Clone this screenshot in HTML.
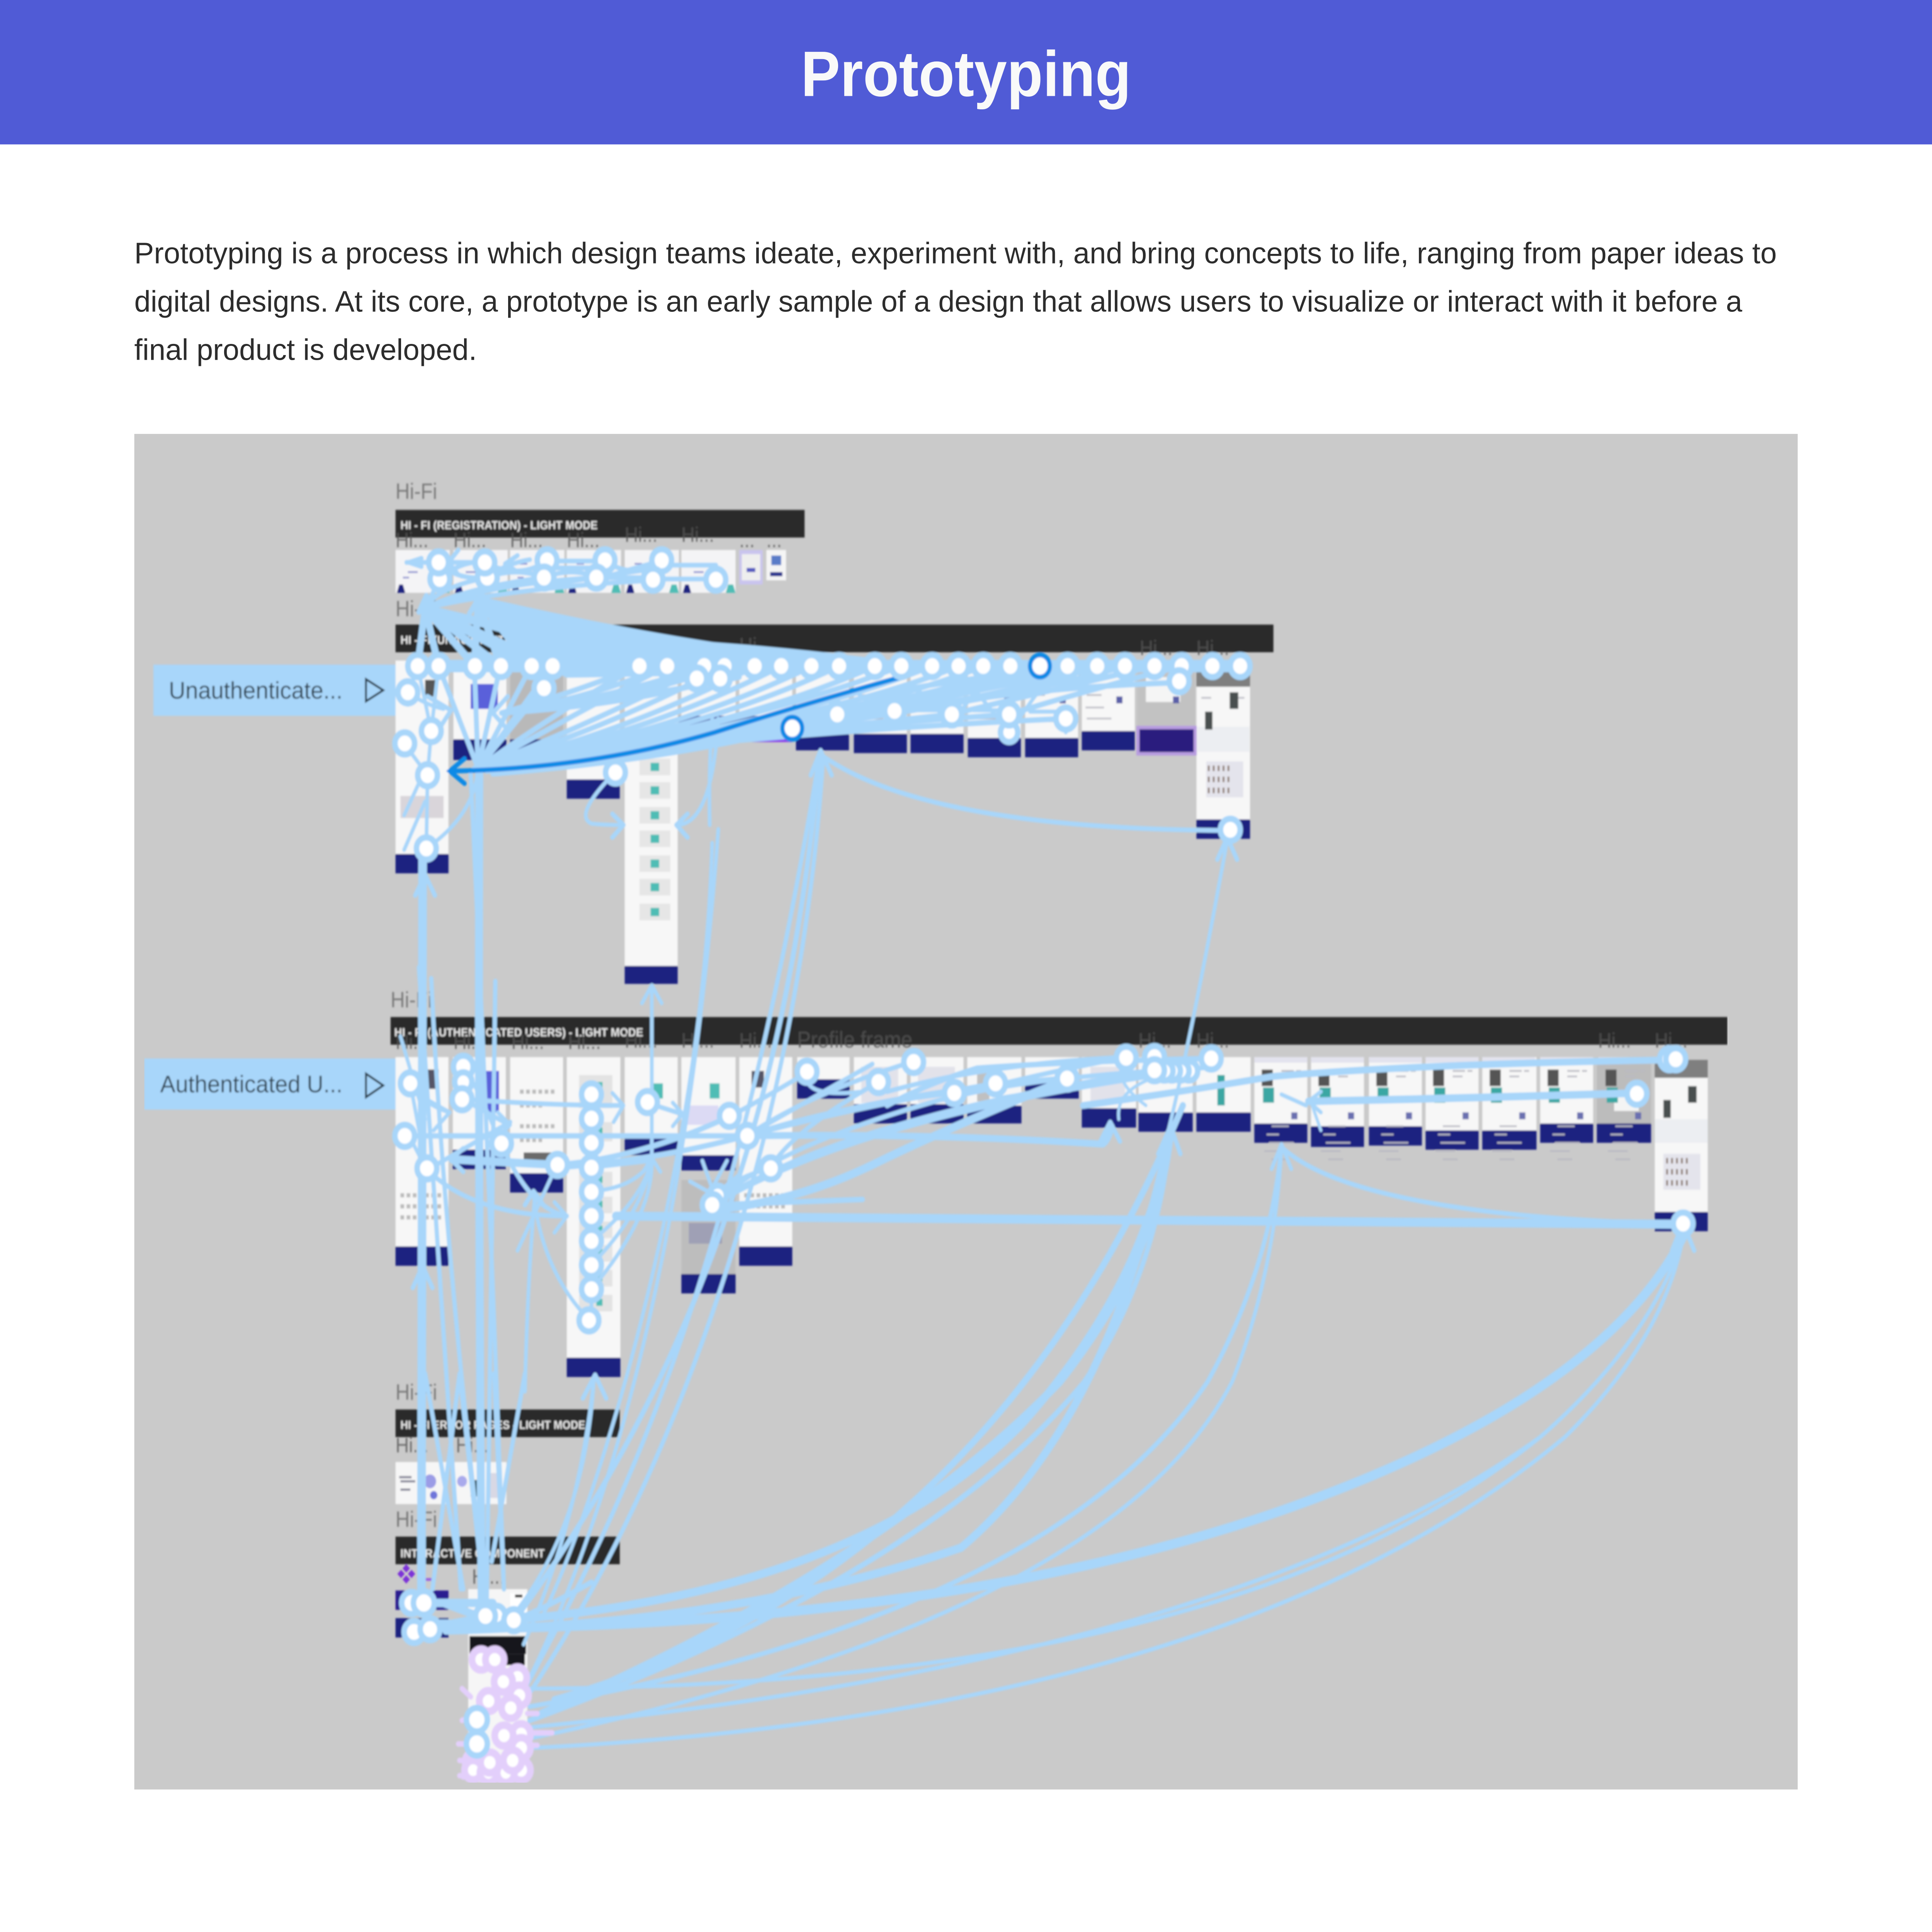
<!DOCTYPE html>
<html lang="en"><head><meta charset="utf-8"><title>Prototyping</title>
<style>html,body{margin:0;padding:0;background:#fff;width:100%;height:100%;overflow:hidden}svg{display:block;width:100vw;height:100vh}text{font-family:"Liberation Sans",sans-serif}</style></head>
<body>
<svg xmlns="http://www.w3.org/2000/svg" viewBox="0 0 1568 1398.13" preserveAspectRatio="none">
<defs>
<filter id="b" x="0" y="0" width="100%" height="100%" filterUnits="objectBoundingBox"><feGaussianBlur stdDeviation="0.7"/></filter>
<g id="d">
<rect x="0" y="0" width="43" height="4" fill="#e3e3ee"/>
<rect x="6" y="9" width="9" height="12" fill="#555"/><rect x="7" y="22" width="9" height="11" fill="#3aa7a3"/>
<rect x="30" y="40" width="5" height="5" fill="#6a6fb0"/>
<path d="M22 10h10M34 10h4M22 14h8M14 50h14M10 56h10M12 62h20M8 68h16M14 74h12" stroke="#b9b9c2" stroke-width="1.2" fill="none"/>
</g>
<g id="r">
<rect width="44" height="31" fill="#f4f4f6"/>
<path d="M1 31l2-6 3 0 2 6z" fill="#1c2180"/><path d="M36 31l2-6 4 0 2 6z" fill="#4fbdb5"/>
<path d="M8 10h6M10 16h8M6 20h5" stroke="#8b8fd0" stroke-width="1.2"/>
</g>
</defs>
<rect width="1568" height="1398.13" fill="#fff"/>
<rect width="1568" height="104.5" fill="#505bd6"/>
<text x="650" y="69.5" font-size="46.5" font-weight="700" fill="#f9f9f9" textLength="268" lengthAdjust="spacingAndGlyphs">Prototyping</text>
<g font-size="21.5" fill="#2c2c2c">
<text x="109" y="190.5" textLength="1333" lengthAdjust="spacingAndGlyphs">Prototyping is a process in which design teams ideate, experiment with, and bring concepts to life, ranging from paper ideas to</text>
<text x="109" y="225.5" textLength="1305" lengthAdjust="spacingAndGlyphs">digital designs. At its core, a prototype is an early sample of a design that allows users to visualize or interact with it before a</text>
<text x="109" y="260.5" textLength="278" lengthAdjust="spacingAndGlyphs">final product is developed.</text>
</g>
<rect x="109" y="314" width="1350" height="981" fill="#cacaca"/>

<g filter="url(#b)">
<!-- section labels -->
<g font-size="16" fill="#7a7a7a">
<text x="321" y="361">Hi-Fi</text><text x="321" y="446">Hi-Fi</text><text x="317" y="729">Hi-Fi</text><text x="321" y="1013">Hi-Fi</text><text x="321" y="1105">Hi-Fi</text>
</g>
<!-- bars -->
<rect x="321" y="369" width="332" height="20" fill="#2c2c2c"/>
<rect x="321" y="452" width="712.5" height="20" fill="#2c2c2c"/>
<rect x="317" y="736" width="1085" height="20" fill="#2c2c2c"/>
<rect x="321" y="1020" width="182" height="20" fill="#2c2c2c"/>
<rect x="321" y="1112" width="182" height="20" fill="#2c2c2c"/>
<g font-size="8.5" font-weight="700" fill="#e8e8e8">
<text x="325" y="383" textLength="160" lengthAdjust="spacingAndGlyphs">HI - FI (REGISTRATION) - LIGHT MODE</text>
<text x="325" y="466" textLength="215" lengthAdjust="spacingAndGlyphs">HI - FI (UNAUTHENTICATED USERS) - LIGHT MODE</text>
<text x="320" y="750" textLength="202" lengthAdjust="spacingAndGlyphs">HI - FI (AUTHENTICATED USERS) - LIGHT MODE</text>
<text x="325" y="1034" textLength="150" lengthAdjust="spacingAndGlyphs">HI - FI ERROR PAGES - LIGHT MODE</text>
<text x="325" y="1127" textLength="117" lengthAdjust="spacingAndGlyphs">INTERACTIVE COMPONENT</text>
</g>
<!-- small frame labels -->
<g font-size="15" fill="#555" fill-opacity=".8">
<text x="321" y="396">Hi...</text><text x="368" y="396">Hi...</text><text x="414" y="396">Hi...</text><text x="460" y="396">Hi...</text><text x="507" y="392">Hi...</text><text x="553" y="392">Hi...</text><text x="600" y="396">...</text><text x="622" y="396">...</text>
<text x="600" y="472">Hi...</text><text x="925" y="474">Hi...</text><text x="971" y="474">Hi...</text>
<text x="321" y="759">Hi...</text><text x="368" y="759">Hi...</text><text x="415" y="759">Hi...</text><text x="461" y="759">Hi...</text><text x="507" y="758">Hi...</text><text x="553" y="758">Hi...</text><text x="600" y="758">Hi...</text><text x="647" y="758" font-size="16.5">Profile frame</text>
<text x="924" y="758">Hi...</text><text x="971" y="758">Hi...</text><text x="1297" y="758">Hi...</text><text x="1343" y="758">Hi...</text>
<text x="321" y="1051">Hi...</text><text x="370" y="1051">Hi...</text><text x="383" y="1146">Hi...</text>
</g>
<!-- registration frames -->
<use href="#r" x="321" y="398"/><use href="#r" x="368" y="398"/><use href="#r" x="414" y="398"/><use href="#r" x="460" y="398"/><use href="#r" x="507" y="398"/><use href="#r" x="553" y="398"/>
<rect x="600" y="398" width="19" height="25" fill="#c9c4ee"/><rect x="602" y="401" width="15" height="19" fill="#eee"/><rect x="606" y="411" width="7" height="3" fill="#5258c0"/>
<rect x="622" y="398" width="16" height="22" fill="#f5f5f5"/><rect x="626" y="402" width="8" height="7" fill="#5a7cc8"/><rect x="625" y="414" width="10" height="3" fill="#25308e"/>

<!-- unauth frames -->
<g fill="#f7f7f7">
<rect x="321" y="478" width="43" height="142"/><rect x="368" y="478" width="43" height="60"/><rect x="460" y="478" width="43" height="88"/><rect x="507" y="478" width="43" height="222"/><rect x="553" y="478" width="44" height="42"/><rect x="600" y="478" width="43" height="42"/>
<rect x="646" y="478" width="43" height="52"/><rect x="693" y="478" width="43" height="54"/><rect x="739" y="478" width="43" height="54"/><rect x="785.5" y="478" width="43" height="57"/><rect x="832" y="478" width="43" height="57"/><rect x="878" y="478" width="43" height="52"/>
<rect x="971" y="496" width="43.5" height="100"/>
</g>
<rect x="414" y="478" width="43" height="60" fill="#b9b9b9"/>
<rect x="923" y="478" width="47" height="50" fill="#c2c2c2"/><rect x="930" y="490" width="28" height="18" fill="#f5f5f5"/>
<rect x="971" y="485" width="43.5" height="12" fill="#7f7f7f"/>
<g fill="#1c2180">
<rect x="321" y="618" width="43" height="14"/><rect x="368" y="535" width="43" height="15"/><rect x="414" y="535" width="43" height="15"/><rect x="460" y="564" width="43" height="14"/><rect x="507" y="699" width="43" height="13"/>
<rect x="646" y="529" width="43" height="14"/><rect x="693" y="531" width="43" height="14"/><rect x="739" y="531" width="43" height="14"/><rect x="785.5" y="534" width="43" height="14"/><rect x="832" y="534" width="43" height="14"/><rect x="878" y="529" width="43" height="14"/><rect x="971" y="593" width="43.5" height="14"/>
</g>
<rect x="551" y="518" width="92" height="19" fill="#2a1f8c"/><rect x="551" y="533" width="92" height="4" fill="#8a3cf0"/>
<rect x="923.5" y="526.5" width="46.5" height="19" fill="#2a1d7e" stroke="#b79be0" stroke-width="2.5"/>
<rect x="382" y="495" width="22" height="18" fill="#5a60da"/><rect x="345" y="492" width="9" height="12" fill="#555"/>
<!-- unauth col5 tiles -->
<g fill="#e6e6e6"><rect x="519" y="549" width="25" height="12"/><rect x="519" y="566" width="25" height="12"/><rect x="519" y="584" width="25" height="12"/><rect x="519" y="601" width="25" height="12"/><rect x="519" y="619" width="25" height="12"/><rect x="519" y="636" width="25" height="12"/><rect x="519" y="654" width="25" height="12"/></g>
<g fill="#4fbdb5"><rect x="528" y="552" width="7" height="6"/><rect x="528" y="569" width="7" height="6"/><rect x="528" y="587" width="7" height="6"/><rect x="528" y="604" width="7" height="6"/><rect x="528" y="622" width="7" height="6"/><rect x="528" y="639" width="7" height="6"/><rect x="528" y="657" width="7" height="6"/></g>
<rect x="325" y="576" width="35" height="16" fill="#d9d5da"/>
<path d="M650 503h12M652 510h8M697 503h12M742 503h12M790 503h12M836 503h12M882 503h12M697 520h20M742 520h20M790 520h20M836 522h20M882 520h20M881 512h15M1000 505h10M975 505h8" stroke="#bcbcc4" stroke-width="1.2" fill="none"/>
<g fill="#5a5fa8"><rect x="676" y="504" width="5" height="5"/><rect x="722" y="504" width="5" height="5"/><rect x="767" y="504" width="5" height="5"/><rect x="815" y="504" width="5" height="5"/><rect x="860" y="504" width="5" height="5"/><rect x="906" y="504" width="5" height="5"/><rect x="952" y="504" width="5" height="5"/></g>
<!-- right unauth long frame details -->
<rect x="972" y="526" width="42" height="18" fill="#eceef2"/><rect x="979" y="551" width="30" height="26" fill="#e4e4ec"/>
<rect x="978" y="515" width="6" height="13" fill="#49504f"/><rect x="998" y="501" width="7" height="12" fill="#49504f"/>
<path d="M981 554v4M985 554v4M989 554v4M993 554v4M997 554v4M981 562v4M985 562v4M989 562v4M993 562v4M997 562v4M981 570v4M985 570v4M989 570v4M993 570v4M997 570v4" stroke="#8d7a70" stroke-width="1.5"/>

<!-- auth frames -->
<g fill="#f7f7f7">
<rect x="321" y="765" width="43" height="138"/><rect x="367.5" y="765" width="43" height="68"/><rect x="414" y="765" width="43" height="85"/><rect x="460" y="765" width="43.5" height="218"/><rect x="507" y="765" width="43" height="60"/><rect x="553" y="765" width="44" height="72"/><rect x="600" y="765" width="43" height="138"/>
<rect x="647" y="765" width="42.5" height="17"/><rect x="693" y="765" width="43" height="36"/><rect x="739" y="765" width="43" height="35"/><rect x="785" y="765" width="44" height="36"/><rect x="832" y="765" width="43.5" height="17"/><rect x="878" y="765" width="44" height="38"/><rect x="924" y="765" width="44" height="40"/><rect x="971" y="765" width="44" height="40"/>
</g>
<rect x="553" y="854" width="44" height="70" fill="#bdbdbd"/>
<rect x="559" y="885" width="27" height="15" fill="#9fa0b5"/>
<rect x="391" y="775" width="14" height="30" fill="#5a60da"/>
<rect x="346" y="774" width="10" height="14" fill="#556"/>
<rect x="425" y="834" width="24" height="8" fill="#6b6b6b"/>
<rect x="555" y="800" width="28" height="14" fill="#dcdaf4"/>
<rect x="699" y="772" width="30" height="26" fill="#e2e2ea"/><rect x="745" y="772" width="30" height="26" fill="#e2e2ea"/><rect x="793" y="772" width="10" height="25" fill="#c0c0c0"/><rect x="885" y="772" width="28" height="26" fill="#e2e2ea"/>
<g fill="#1c2180">
<rect x="321" y="902" width="43" height="14"/><rect x="367.5" y="832" width="43" height="14"/><rect x="414" y="849" width="43" height="14"/><rect x="460" y="982.5" width="43.5" height="14"/><rect x="507" y="824" width="43" height="12"/><rect x="553" y="836" width="44" height="11"/><rect x="553" y="922" width="44" height="14"/><rect x="600" y="902" width="43" height="14"/>
<rect x="647" y="781" width="42.5" height="14"/><rect x="693" y="799" width="43" height="14"/><rect x="739" y="799" width="43" height="14"/><rect x="785" y="800" width="44" height="13"/><rect x="832" y="781" width="43.5" height="14"/><rect x="878" y="802" width="44" height="14"/><rect x="924" y="805" width="44" height="14"/><rect x="971" y="805" width="44" height="14"/>
<rect x="1018" y="813" width="43" height="14"/><rect x="1064" y="815" width="43" height="15"/><rect x="1111" y="815" width="43" height="14"/><rect x="1157" y="818" width="43" height="14"/><rect x="1203" y="818" width="44" height="14"/><rect x="1250" y="813" width="43" height="14"/><rect x="1296" y="813" width="44" height="14"/><rect x="1343" y="877" width="43" height="14"/>
</g>
<g fill="#f7f7f7"><rect x="1018" y="765" width="43" height="48"/><rect x="1064" y="765" width="43" height="50"/><rect x="1111" y="765" width="43" height="50"/><rect x="1157" y="765" width="43" height="53"/><rect x="1203" y="765" width="44" height="53"/><rect x="1250" y="765" width="43" height="48"/></g>
<rect x="1296" y="765" width="44" height="48" fill="#bcbcbc"/><rect x="1310" y="790" width="20" height="14" fill="#f4f4f4"/>
<use href="#d" x="1018" y="765"/><use href="#d" x="1064" y="765"/><use href="#d" x="1111" y="765"/><use href="#d" x="1157" y="765"/><use href="#d" x="1203" y="765"/><use href="#d" x="1250" y="765"/><use href="#d" x="1297" y="765"/>
<rect x="988" y="778" width="6" height="22" fill="#3aa7a3"/>
<rect x="1343" y="767" width="43" height="13" fill="#7f7f7f"/><rect x="1343" y="780" width="43" height="97" fill="#f7f7f7"/>
<rect x="1343" y="810" width="43" height="17" fill="#eceef2"/><rect x="1350" y="835" width="30" height="26" fill="#e4e4ec"/>
<rect x="1350" y="796" width="6" height="13" fill="#49504f"/><rect x="1370" y="786" width="7" height="12" fill="#49504f"/>
<path d="M1353 838v4M1357 838v4M1361 838v4M1365 838v4M1369 838v4M1353 846v4M1357 846v4M1361 846v4M1365 846v4M1369 846v4M1353 854v4M1357 854v4M1361 854v4M1365 854v4M1369 854v4" stroke="#8d7a70" stroke-width="1.5"/>
<!-- auth col4 tiles -->
<g fill="#e3e3e3"><rect x="470" y="778" width="27" height="24"/><rect x="470" y="812" width="27" height="14"/><rect x="470" y="848" width="27" height="12"/><rect x="470" y="866" width="27" height="12"/><rect x="470" y="884" width="27" height="12"/><rect x="470" y="901" width="27" height="12"/><rect x="470" y="919" width="27" height="12"/><rect x="470" y="937" width="27" height="12"/></g>
<g fill="#4fbdb5"><rect x="484" y="783" width="5" height="5"/><rect x="484" y="816" width="5" height="5"/><rect x="484" y="851" width="5" height="5"/><rect x="484" y="869" width="5" height="5"/><rect x="484" y="887" width="5" height="5"/><rect x="484" y="904" width="5" height="5"/><rect x="484" y="922" width="5" height="5"/><rect x="484" y="940" width="5" height="5"/></g>
<rect x="530" y="784" width="8" height="11" fill="#4fbdb5"/><rect x="576" y="784" width="8" height="11" fill="#4fbdb5"/>
<rect x="610" y="775" width="10" height="12" fill="#556"/>
<path d="M325 865h35M325 873h35M325 881h35M604 865h35M604 873h35M422 790h28M422 800h20M422 815h28M422 825h20" stroke="#bbb" stroke-width="3" stroke-dasharray="3 2" fill="none"/>

<!-- error frames -->
<rect x="321" y="1058" width="42" height="30.5" fill="#f6f6f6"/><rect x="369" y="1058" width="42" height="30.5" fill="#f6f6f6"/>
<path d="M324 1069h10M325 1072h12M325 1078h8" stroke="#7a7a90" stroke-width="1.5"/><circle cx="349" cy="1072" r="5" fill="#9b9ce6"/><circle cx="352" cy="1082" r="3" fill="#7076da"/><circle cx="375" cy="1072" r="4" fill="#a9aaec"/><rect x="382" y="1071" width="8" height="12" fill="#33535e"/><rect x="397" y="1066" width="8" height="18" fill="#d8d8e4"/>
<!-- components -->
<g fill="#7c30d8"><path d="M329.7 1132l3 3-3 3-3-3z"/><path d="M329.7 1140l3 3-3 3-3-3z"/><path d="M325.5 1136l3 3-3 3-3-3z"/><path d="M334 1136l3 3-3 3-3-3z"/></g>
<rect x="341" y="1142" width="10" height="2" fill="#9a5fe0"/>
<rect x="321" y="1151" width="43" height="14" fill="#2a1d90"/><rect x="321" y="1171" width="43" height="14" fill="#1c2180"/>
<!-- phone -->
<rect x="380" y="1150" width="48" height="140" fill="#f6f6f6"/><rect x="414" y="1153" width="14" height="14" fill="#fff"/><rect x="418" y="1154" width="6" height="2" fill="#111"/>
<rect x="381" y="1184" width="46" height="13" fill="#15151c"/><rect x="396" y="1197" width="30" height="8" fill="#15151c"/>

<!-- connectors -->
<g fill="none" stroke="#a8d6fa" stroke-linecap="round" stroke-linejoin="round">
<!-- registration -->
<g stroke-width="3.5">
<path d="M330 407H356M356 407L394 407M394 407Q420 420 444 406M394 418Q420 410 441 418M444 406H491M441 418Q465 410 484 418M491 406Q515 420 537 406M484 418H530M537 406Q510 412 491 418M530 419H581M357 419Q375 405 394 407M356 407Q370 420 395 418M395 418Q410 408 430 405M444 411H491M441 424Q500 415 537 411M537 409H581"/>
<path d="M345 440Q352 428 357 419M345 440Q355 425 395 418M345 440Q380 425 441 418M345 440Q400 422 484 418M345 440Q420 425 530 420M390 432Q395 425 394 418"/>
<path d="M342 410L332 407L342 404M372 398L364 407L372 416M398 400L390 407L398 414M420 402L410 408L420 414"/>
</g>
<!-- fan from hub -->
<path d="M388 430Q450 455 540 463Q640 468 735 480L735 486L460 490L420 472Z" fill="#a8d6fa" stroke="#a8d6fa" stroke-width="1"/>
<path d="M340 482H1007" stroke-width="9"/>
<g stroke-width="5.5">
<path d="M345 440L339 482M345 440L356 482M345 440L385 482M345 440L406 482M345 440L431 482M345 440L448 482M345 440L519 482"/>
<path d="M388 434L385 482M388 434L406 482M388 434L431 482M388 434L448 482M388 434Q450 470 519 482M388 434Q470 470 541 482M388 434Q480 470 571 482M388 434Q500 470 613 482M388 434Q520 470 659 482M388 434Q560 470 710 482M345 440Q500 475 634 482"/>
</g>
<g stroke-width="4"><path d="M340 443L346 431L352 443M381 444L389 432L397 444"/></g>
<!-- fan below -->
<g stroke-width="4">
<path d="M388 556Q460 510 519 482M388 556Q470 515 541 482M388 556Q490 520 571 482M388 556Q500 525 588 482M388 556Q510 530 613 482M388 556Q530 530 634 482M388 556Q550 530 659 482M388 556Q570 530 681 482M388 556Q590 530 710 482M388 556Q610 525 731 482M388 556Q640 525 756 482M388 556Q660 525 778 482M388 556Q680 525 798 482M388 556Q700 525 820 482M388 556Q720 520 867 482M388 556Q760 520 891 482M388 556Q790 515 913 482"/>
<path d="M407 516Q470 500 519 482M407 516Q480 505 541 482M407 516Q500 505 571 482M407 516Q520 505 588 482M407 516Q540 508 613 482M407 516Q520 500 560 490M407 516Q540 502 600 490"/>
<path d="M388 556L385 482M388 556L406 482M388 556L441 498M388 556L431 482M388 556L448 482M388 556L356 482"/>
<path d="M400 560Q540 550 643 527M385 556Q540 545 680 517M385 556Q560 540 726 515M385 556Q580 535 772 517M385 556Q600 530 819 517M385 556Q620 530 865 520M395 558Q520 550 600 530"/>
</g>
<path d="M957 494Q800 498 660 527M640 528Q740 500 867 482M680 517Q760 500 891 482M726 515Q800 495 913 482M772 517Q850 500 937 482M819 517Q880 500 959 482M700 505Q780 490 850 486" stroke-width="4"/>
<path d="M694 500L726 524L746 500M746 500L772 524L792 500M792 500L819 530L843 500M740 514H772M790 514H819M836 515H865L865 530M819 517V535" stroke-width="3"/>
<!-- left unauth verticals -->
<path d="M331 501Q345 510 360 513M339 482Q332 500 331 510M356 482L350 529M339 482L350 529M350 529L347 561M328 538L347 561M347 561L346 614M346 614Q385 590 388 556M328 590L346 555M328 615L345 580" stroke-width="3"/>
<path d="M347 504L366 514L356 528M412 504L400 516L412 528" stroke-width="3.5"/>
<path d="M499 559Q465 590 480 596Q490 597 505 597M549 597Q578 597 583 520M576 597Q575 560 578 520" stroke-width="3"/>
<path d="M497 589L506 597L497 606M558 589L549 597L558 606" stroke-width="3.5"/>
<!-- main verticals -->
<path d="M342 1160L343 618" stroke-width="7"/>
<path d="M391 1165Q388 850 389 556" stroke-width="6.5"/>
<path d="M337 648L345 633L353 648M335 932L343 916L351 932" stroke-width="3.5"/>
<path d="M350 708Q360 900 396 1170M345 994L376 1150M373 994L351 1150M373 994L394 1165M401 994L409 1150M426 994L399 1130M340 700Q355 900 374 1150M382 560Q395 800 409 1150M402 710Q400 900 395 1160" stroke-width="3.5"/>
<!-- auth local -->
<path d="M384 796Q450 800 505 800M525 798L553 806M377 796Q395 805 413 814M350 845L414 812" stroke-width="3.5"/>
<path d="M497 791L506 800L498 812M546 798L554 806L546 815M404 805L414 814L405 822" stroke-width="3"/>
<path d="M328 822H606" stroke-width="4"/>
<path d="M452 843L367 839" stroke-width="6"/>
<path d="M376 831L366 839L376 848" stroke-width="3.5"/>
<path d="M346 846Q385 880 460 880M407 828Q430 875 460 880" stroke-width="3.5"/>
<path d="M450 870L460 880L450 892" stroke-width="3"/>
<path d="M478 955Q440 920 433 864M426 1007Q428 930 434 866" stroke-width="3"/>
<path d="M426 872L433 862L441 872" stroke-width="3.5"/>
<path d="M480 862Q515 860 529 840M480 915Q520 880 529 840M480 898Q520 870 529 840M480 933Q530 880 529 840M480 845L529 840" stroke-width="3"/>
<path d="M522 848L529 838L536 848" stroke-width="3"/>
<path d="M529 838V714" stroke-width="3"/>
<path d="M521 726L529 713L537 726" stroke-width="3"/>
<path d="M333 784Q345 800 365 805M376 772L375 796M376 772Q390 790 406 828M346 846L332 822M346 846L333 784M325 750L345 810" stroke-width="3"/>
<path d="M345 795L365 805L352 818" stroke-width="3"/>
<path d="M452 843L420 905M480 792L480 955" stroke-width="3"/>
<!-- mid horizontals -->
<path d="M606 822Q760 820 895 828Q900 825 902 815" stroke-width="5"/>
<path d="M500 880L1366 886" stroke-width="6.5"/>
<path d="M578 872L700 868" stroke-width="4"/>
<path d="M893 826L901 812L909 826" stroke-width="3.5"/>
<path d="M452 845Q530 840 606 822M452 843Q520 838 592 808" stroke-width="4"/>
<path d="M606 822L708 770M606 822Q660 790 742 768M606 822Q680 800 774 791M606 822Q700 800 808 784M606 822Q720 790 866 780M592 808Q620 795 655 776M625 846Q640 820 713 783M578 872Q650 810 914 765M578 872Q680 810 937 775M578 872Q710 805 965 775" stroke-width="3.5"/>
<path d="M655 776Q650 795 700 790M1040 792L1060 800" stroke-width="3"/>
<path d="M570 840L578 860L590 840M560 855L580 865L600 850M625 846Q600 850 582 865" stroke-width="3"/>
<!-- top right of auth -->
<path d="M1358 767Q1150 770 1033 779Q960 790 879 800" stroke-width="5"/>
<path d="M983 766Q870 768 793 773Q750 785 720 800" stroke-width="4"/>
<path d="M914 765Q800 770 720 790M937 775Q820 782 770 795M965 775Q880 785 810 795M951 775L985 772" stroke-width="3.5"/>
<path d="M1328 791Q1180 795 1062 797" stroke-width="5.5"/>
<path d="M1072 790L1062 797L1072 805" stroke-width="3"/>
<path d="M1065 800L1072 818M914 765Q900 780 930 800M936 780Q905 790 908 810" stroke-width="2.5"/>
<path d="M866 781Q760 820 708 843Q650 868 585 875" stroke-width="6"/>
<path d="M1360 760V772" stroke-width="6"/>
<!-- top bundle to unauth row right -->
<path d="M998 601Q750 600 666 546" stroke-width="3.5"/>
<path d="M658 561L666 543L675 561" stroke-width="3.5"/>
<path d="M1366 886Q1100 880 1040 830" stroke-width="3.5"/>
<path d="M1032 846L1040 828L1048 846" stroke-width="3"/>
<path d="M945 830Q965 760 996 608" stroke-width="3"/>
<path d="M988 622L996 606L1004 622" stroke-width="3.5"/>
<!-- long curves from bottom -->
<path d="M418 1178Q800 1170 1050 1090Q1300 1010 1366 895" stroke-width="7"/>
<path d="M362 1180Q600 1175 780 1120Q900 1030 950 818" stroke-width="6"/>
<path d="M430 1222Q1000 1220 1250 1040Q1340 970 1366 895" stroke-width="3"/>
<path d="M430 1250Q1000 1200 1250 1040Q1340 970 1366 895" stroke-width="3"/>
<path d="M430 1265Q1000 1240 1270 1040Q1350 970 1366 895" stroke-width="3"/>
<path d="M1357 905L1366 885L1375 905" stroke-width="3.5"/>
<path d="M418 1172Q700 1150 830 1030Q930 930 950 818" stroke-width="6"/>
<path d="M440 1240Q720 1130 860 1000Q940 910 950 818" stroke-width="6"/>
<path d="M430 1245Q750 1140 880 1000Q940 920 950 818" stroke-width="4"/>
<path d="M940 835L950 815L958 835" stroke-width="3.5"/>
<path d="M430 1235Q850 1170 980 1000Q1030 920 1040 830" stroke-width="3.5"/>
<path d="M430 1258Q900 1170 1000 1000Q1035 920 1040 830" stroke-width="3"/>
<path d="M415 1240C500 1100 590 950 665 548" stroke-width="3.5"/>
<path d="M418 1172C560 1000 640 800 665 548" stroke-width="4"/>
<path d="M430 1225C560 1050 650 800 668 548" stroke-width="3.5"/>
<path d="M415 1240C500 1100 560 880 583 600" stroke-width="3"/>
<path d="M440 1170C480 1100 570 850 578 610" stroke-width="3"/>
<path d="M450 1230Q800 1140 960 800" stroke-width="5"/>
<path d="M420 1165Q475 1100 482 998M425 1190Q470 1100 482 998" stroke-width="3"/>
<path d="M473 1012L483 995L492 1012" stroke-width="3.5"/>
<path d="M418 1172Q440 1165 480 1145" stroke-width="4"/>
<!-- comp hubs -->
<path d="M345 1175H420M345 1160H400M350 1178L395 1170M360 1160L395 1172" stroke-width="6"/>
</g>
<!-- dark link -->
<path d="M367 558Q480 556 580 530Q650 510 735 489" fill="none" stroke="#0e8ae6" stroke-width="3.5" stroke-linecap="round"/>
<path d="M377 549L365 558L377 567" fill="none" stroke="#0e8ae6" stroke-width="3.5" stroke-linecap="round"/>

<!-- lilac cluster -->
<g fill="none" stroke="#e3cffb" stroke-width="4" stroke-linecap="round">
<path d="M375 1222L382 1228M375 1245L382 1243M372 1262H380M373 1274H381M373 1285H381M376 1286L384 1282M428 1240H436M428 1254H448M428 1263H436"/>
</g>
<g fill="#fff" stroke="#e3cffb" stroke-width="5.5">
<circle cx="390.5" cy="1201" r="7.5"/><circle cx="401.5" cy="1201" r="7.5"/><circle cx="420" cy="1214" r="7.5"/><circle cx="408.5" cy="1217" r="7.5"/><circle cx="396.5" cy="1231" r="7.5"/><circle cx="421.5" cy="1227" r="7.5"/><circle cx="414.5" cy="1236" r="7.5"/><circle cx="423" cy="1255" r="7.5"/><circle cx="409" cy="1256" r="7.5"/><circle cx="423" cy="1265" r="7.5"/><circle cx="385" cy="1275" r="7.5"/><circle cx="423" cy="1281" r="7.5"/><circle cx="384" cy="1281" r="7"/><circle cx="396.5" cy="1283" r="7"/><circle cx="410.5" cy="1283" r="7"/><circle cx="397.5" cy="1275.5" r="7.5"/><circle cx="416" cy="1274" r="7.5"/>
</g>
<!-- blue nodes -->
<g fill="#fff" stroke="#a8d6fa" stroke-width="4.5">
<circle cx="357" cy="419" r="8"/><circle cx="395.5" cy="418" r="8"/><circle cx="356" cy="407" r="8"/><circle cx="393.5" cy="407" r="8"/><circle cx="444" cy="405.5" r="8"/><circle cx="441.5" cy="418" r="8"/><circle cx="491" cy="405.5" r="8"/><circle cx="484" cy="418" r="8"/><circle cx="537" cy="405.5" r="8"/><circle cx="530" cy="419.5" r="8"/><circle cx="581" cy="419.5" r="8"/>
<circle cx="339" cy="482" r="8"/><circle cx="356" cy="482" r="8"/><circle cx="385.5" cy="482" r="8"/><circle cx="406.5" cy="482" r="8"/><circle cx="431.5" cy="482" r="8"/><circle cx="448.5" cy="482" r="8"/><circle cx="519" cy="482" r="8"/><circle cx="541.5" cy="482" r="8"/><circle cx="571.5" cy="482" r="8"/><circle cx="588" cy="482" r="8"/><circle cx="612.5" cy="482" r="8"/><circle cx="634" cy="482" r="8"/><circle cx="658.5" cy="482" r="8"/><circle cx="681" cy="482" r="8"/><circle cx="710" cy="482" r="8"/><circle cx="731.5" cy="482" r="8"/><circle cx="756.5" cy="482" r="8"/><circle cx="778" cy="482" r="8"/><circle cx="798" cy="482" r="8"/><circle cx="820" cy="482" r="8"/><circle cx="866.5" cy="482" r="8"/><circle cx="890.5" cy="482" r="8"/><circle cx="913" cy="482" r="8"/><circle cx="937" cy="482" r="8"/><circle cx="959" cy="482" r="8"/><circle cx="984" cy="482" r="8"/><circle cx="1006.5" cy="482" r="8"/>
<circle cx="331" cy="501" r="8"/><circle cx="441.5" cy="498" r="8"/><circle cx="565.5" cy="491" r="8"/><circle cx="584.5" cy="491" r="8"/><circle cx="350" cy="529" r="8"/><circle cx="328.5" cy="538" r="8"/><circle cx="347" cy="561" r="8"/><circle cx="346" cy="614" r="8"/><circle cx="499.5" cy="559" r="8"/><circle cx="679.5" cy="517" r="8"/><circle cx="726" cy="514.5" r="8"/><circle cx="772.5" cy="517" r="8"/><circle cx="819" cy="530" r="7"/><circle cx="819" cy="517" r="8"/><circle cx="865" cy="520" r="8"/><circle cx="957" cy="493" r="8"/><circle cx="998.5" cy="600.5" r="8"/>
<circle cx="333" cy="784" r="8"/><circle cx="328.5" cy="822" r="8"/><circle cx="346.5" cy="845.5" r="8"/><circle cx="376" cy="772" r="8"/><circle cx="376" cy="783" r="7"/><circle cx="375" cy="795.5" r="8"/><circle cx="407" cy="827.5" r="8"/><circle cx="452.5" cy="843" r="8"/>
<circle cx="480" cy="792" r="8"/><circle cx="480" cy="809.5" r="8"/><circle cx="480" cy="827" r="8"/><circle cx="480" cy="845" r="8"/><circle cx="480" cy="862.5" r="8"/><circle cx="480" cy="880" r="8"/><circle cx="480" cy="898" r="8"/><circle cx="480" cy="915.5" r="8"/><circle cx="480" cy="933" r="8"/><circle cx="478" cy="955.5" r="8"/>
<circle cx="525.5" cy="797.5" r="8"/><circle cx="592" cy="807.5" r="8"/><circle cx="606.5" cy="822" r="8"/><circle cx="625.5" cy="845.5" r="8"/><circle cx="582.5" cy="865" r="7"/><circle cx="578" cy="872" r="8"/><circle cx="655" cy="775.5" r="8"/><circle cx="713" cy="783" r="8"/><circle cx="741.5" cy="768.5" r="8"/><circle cx="774.5" cy="791" r="8"/><circle cx="808" cy="784" r="8"/><circle cx="866" cy="780.5" r="8"/><circle cx="914" cy="765.5" r="8"/><circle cx="937" cy="765" r="8"/><circle cx="965" cy="775" r="7"/><circle cx="958" cy="775" r="7"/><circle cx="951" cy="775" r="7"/><circle cx="945" cy="775" r="7"/><circle cx="937" cy="774.5" r="8"/><circle cx="983" cy="766" r="8"/><circle cx="1328.5" cy="791.5" r="8"/><circle cx="1355" cy="766.5" r="8"/><circle cx="1360" cy="766.5" r="8"/><circle cx="1366" cy="885.5" r="8"/>
<circle cx="334" cy="1160" r="8"/><circle cx="344" cy="1160" r="8.5"/><circle cx="336" cy="1181" r="8"/><circle cx="349" cy="1179" r="8"/><circle cx="403" cy="1169" r="7"/><circle cx="394" cy="1169.5" r="8"/><circle cx="417" cy="1172.5" r="8"/>
<circle cx="387" cy="1244.5" r="8.5"/><circle cx="387" cy="1262" r="8.5"/>
</g>
<g fill="#fff" stroke="#0e8ae6" stroke-width="3.5"><circle cx="643" cy="527" r="8"/><circle cx="844" cy="482" r="8"/></g>

<!-- start buttons -->
<rect x="124.5" y="481" width="196.5" height="37" fill="#a8d6fa"/>
<rect x="117" y="766" width="204" height="37" fill="#a8d6fa"/>
<g font-size="17.5" fill="#2a3d4c">
<text x="137" y="505.5" textLength="141" lengthAdjust="spacingAndGlyphs">Unauthenticate...</text>
<text x="130" y="790.5" textLength="148" lengthAdjust="spacingAndGlyphs">Authenticated U...</text>
</g>
<path d="M297 491.5L311 499.5L297 507.5Z M297 777L311 785.5L297 794Z" fill="none" stroke="#2a3d4c" stroke-width="1.6"/>
</g>
</svg>
</body></html>
